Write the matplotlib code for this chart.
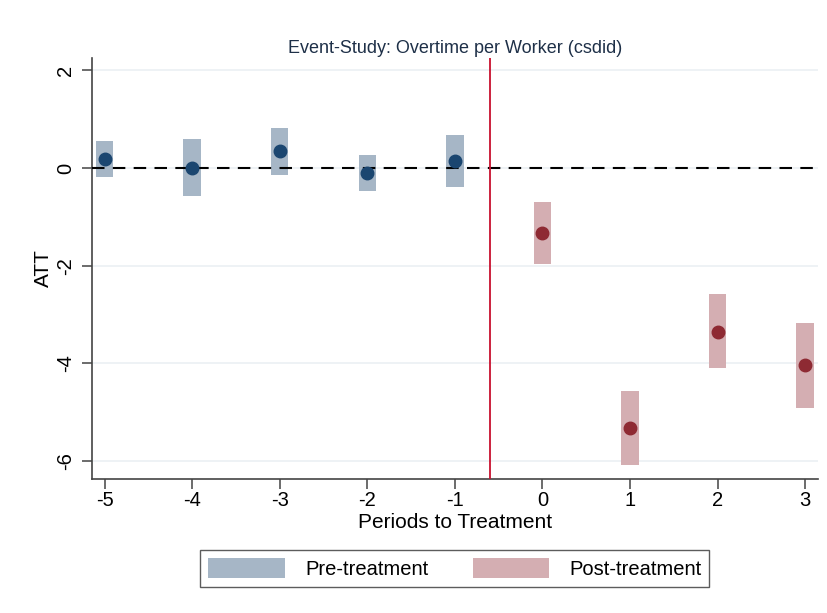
import matplotlib
matplotlib.use("Agg")
import matplotlib.pyplot as plt
from matplotlib.patches import Patch

plt.rcParams['font.family'] = ['Liberation Sans', 'DejaVu Sans']

# Event-time estimates from csdid
pre_periods = [-5, -4, -3, -2, -1]
pre_att = [0.18, 0.01, 0.35, -0.10, 0.15]
pre_lo = [-0.18, -0.57, -0.14, -0.46, -0.38]
pre_hi = [0.56, 0.60, 0.82, 0.27, 0.67]

post_periods = [0, 1, 2, 3]
post_att = [-1.32, -5.32, -3.35, -4.03]
post_lo = [-1.96, -6.07, -4.10, -4.91]
post_hi = [-0.69, -4.57, -2.58, -3.17]

x_ticks = [-5, -4, -3, -2, -1, 0, 1, 2, 3]
y_ticks = [2, 0, -2, -4, -6]
treat_line = -0.6

pre_bar = '#a6b6c6'
pre_dot = '#1b4670'
post_bar = '#d4aeb2'
post_dot = '#8e2a33'
grid_col = '#e9eff2'

fig = plt.figure(figsize=(8.27, 6.13), dpi=100)
ax = fig.add_axes([0.111, 0.219, 0.878, 0.686])

for y in y_ticks:
    ax.axhline(y, color=grid_col, lw=1.1, zorder=0)

bw = 0.2
ax.bar(pre_periods, [h - l for h, l in zip(pre_hi, pre_lo)], bottom=pre_lo,
       width=bw, color=pre_bar, edgecolor='none', zorder=2)
ax.bar(post_periods, [h - l for h, l in zip(post_hi, post_lo)], bottom=post_lo,
       width=bw, color=post_bar, edgecolor='none', zorder=2)

ax.axhline(0, color='black', lw=1.5, ls=(0, (6, 4)), zorder=3)
ax.axvline(treat_line, color='#c8102e', lw=1.3, zorder=3)

ax.plot(pre_periods, pre_att, 'o', color=pre_dot, ms=9, zorder=4)
ax.plot(post_periods, post_att, 'o', color=post_dot, ms=9, zorder=4)

ax.set_xlim(-5.146, 3.145)
ax.set_ylim(-6.36, 2.25)
ax.set_xticks(x_ticks)
ax.set_xticklabels([str(v) for v in x_ticks], fontsize=14.5)
ax.set_yticks(y_ticks)
ax.set_yticklabels([str(v) for v in y_ticks], fontsize=14.5, rotation=90, va='center')

for s in ['top', 'right']:
    ax.spines[s].set_visible(False)
for s in ['left', 'bottom']:
    ax.spines[s].set_color('#444444')
    ax.spines[s].set_linewidth(1.2)
ax.tick_params(axis='both', direction='out', length=7, width=1.1, color='#444444')
ax.tick_params(axis='x', pad=2)
ax.tick_params(axis='y', pad=5)

ax.set_xlabel('Periods to Treatment', fontsize=15, labelpad=2)
ax.set_ylabel('ATT', fontsize=15, labelpad=2)
ax.set_title('Event-Study: Overtime per Worker (csdid)', fontsize=13,
             color='#1e3048', pad=4)

handles = [Patch(facecolor=pre_bar, edgecolor='none', label='Pre-treatment'),
           Patch(facecolor=post_bar, edgecolor='none', label='Post-treatment')]
leg = fig.legend(handles=handles, loc='center', bbox_to_anchor=(0.55, 0.073),
                 ncol=2, fontsize=14.5, frameon=True, fancybox=False,
                 handlelength=3.8, handleheight=1.2, columnspacing=2.2,
                 handletextpad=1.0, borderpad=0.4)
leg.get_frame().set_edgecolor('#333333')
leg.get_frame().set_linewidth(1.0)

fig.savefig('out.png', dpi=100)
